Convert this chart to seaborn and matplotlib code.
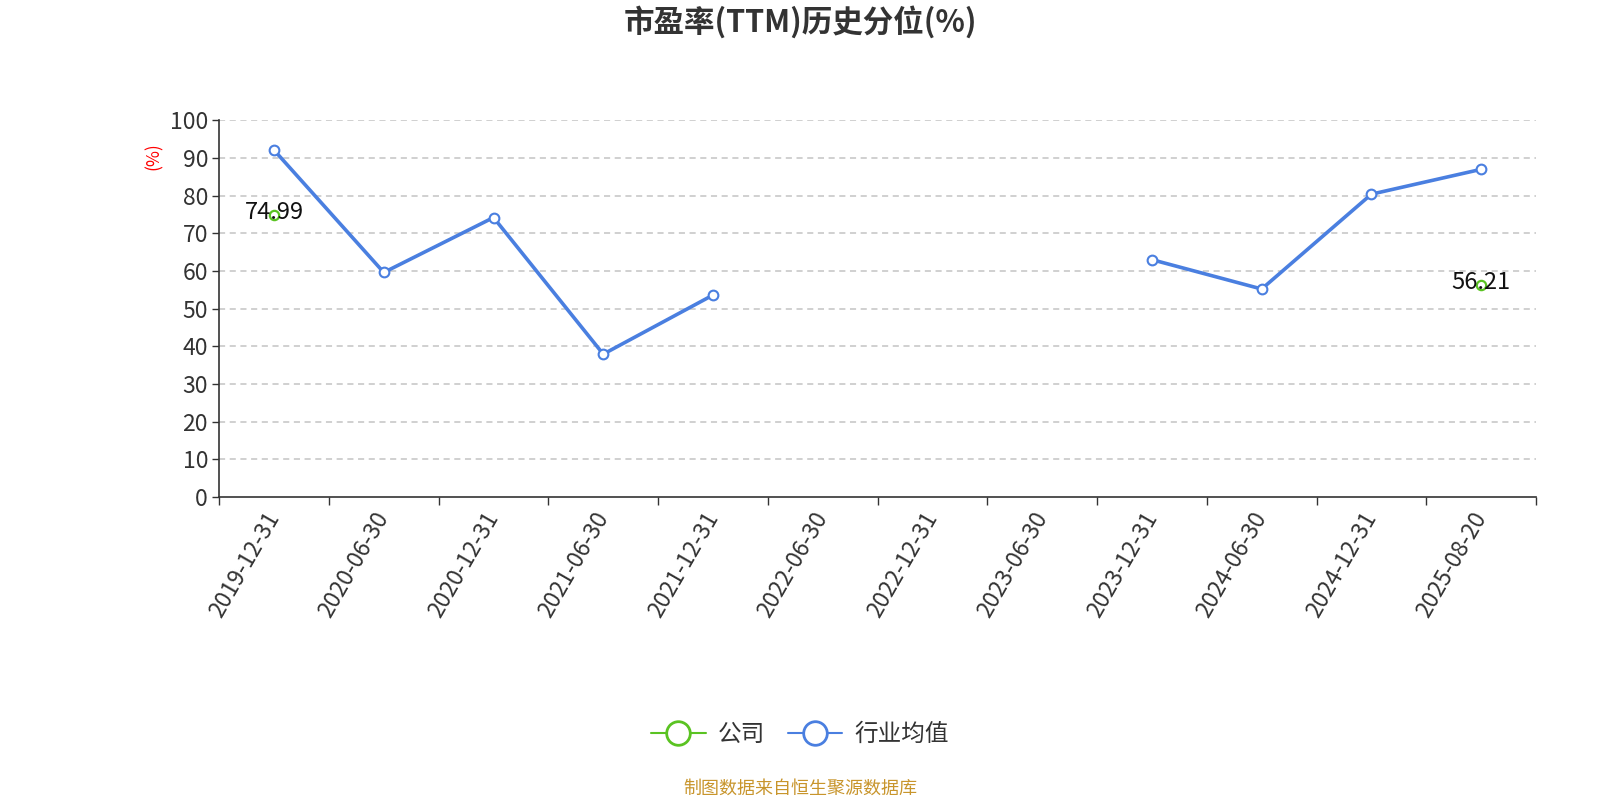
import numpy as np
import pandas as pd
import seaborn as sns
import matplotlib.pyplot as plt
from matplotlib.lines import Line2D

# 数据
dates = ['2019-12-31', '2020-06-30', '2020-12-31', '2021-06-30', '2021-12-31',
         '2022-06-30', '2022-12-31', '2023-06-30', '2023-12-31', '2024-06-30',
         '2024-12-31', '2025-08-20']
company = [74.99, None, None, None, None, None, None, None, None, None, None, 56.21]
industry = [92.1, 59.6, 74.2, 37.9, 53.6, None, None, None, 63.0, 55.2, 80.4, 87.0]

green = '#5ac322'
blue = '#4a7fe0'

sns.set_theme(style='white')
plt.rcParams['font.family'] = ['Noto Sans CJK SC', 'DejaVu Sans']

fig = plt.figure(figsize=(16, 8), dpi=100)
ax = fig.add_axes([0.137, 0.379, 0.823, 0.4705])

x = np.arange(len(dates))
df = pd.DataFrame({'x': x, 'company': company, 'industry': industry})
df['company'] = df['company'].astype(float)
df['industry'] = df['industry'].astype(float)

# 行业均值：按连续段分开画，空值处断开
seg = df['industry'].isna().cumsum()
ind = df.assign(seg=seg).dropna(subset=['industry'])
sns.lineplot(data=ind, x='x', y='industry', units='seg', estimator=None,
             color=blue, linewidth=2.6, marker='o', markersize=7,
             markerfacecolor='white', markeredgecolor=blue, markeredgewidth=1.5,
             ax=ax, zorder=3)

# 公司
comp = df.dropna(subset=['company'])
sns.scatterplot(data=comp, x='x', y='company', s=45, facecolor='white',
                edgecolor=green, linewidth=1.6, ax=ax, zorder=4)
for xi, yi in zip(comp['x'], comp['company']):
    ax.text(xi, yi + 0.6, f'{yi:.2f}', ha='center', va='center', fontsize=17,
            color='#111111', zorder=5)

ax.set_xlim(-0.5, len(dates) - 0.5)
ax.set_ylim(0, 100)
ax.set_yticks(range(0, 101, 10))
ax.tick_params(axis='y', labelsize=16.5, labelcolor='#333333', length=5,
               width=1, color='#333333', left=True, pad=3)
for yv in range(10, 101, 10):
    ax.axhline(yv, color='#c4c4c4', linestyle=(0, (4, 3)), linewidth=1.1, zorder=1)

ax.set_xticks(np.arange(-0.5, len(dates), 1.0))
ax.set_xticklabels([])
ax.tick_params(axis='x', which='major', length=6, width=1, color='#333333', bottom=True)
ax.set_xticks(x, minor=True)
ax.set_xticklabels(dates, minor=True, rotation=60, ha='right', va='center',
                   rotation_mode='anchor', fontsize=16.5, color='#333333')
ax.tick_params(axis='x', which='minor', length=0, pad=12)

ax.set_xlabel('')
ax.set_ylabel('(%)', color='red', fontsize=12.5, labelpad=4)
ax.yaxis.set_label_coords(-0.043, 0.905)

for s in ['top', 'right']:
    ax.spines[s].set_visible(False)
for s in ['left', 'bottom']:
    ax.spines[s].set_color('#333333')
    ax.spines[s].set_linewidth(1.2)

fig.text(0.5, 0.972, '市盈率(TTM)历史分位(%)', ha='center', va='center',
         fontsize=22, fontweight='bold', color='#333333')

handles = [
    Line2D([0], [0], color=green, linewidth=1.5, marker='o', markersize=17,
           markerfacecolor='white', markeredgecolor=green, markeredgewidth=2),
    Line2D([0], [0], color=blue, linewidth=1.5, marker='o', markersize=17,
           markerfacecolor='white', markeredgecolor=blue, markeredgewidth=2),
]
fig.legend(handles, ['公司', '行业均值'], loc='center', bbox_to_anchor=(0.5, 0.082),
           ncol=2, frameon=False, fontsize=17, handlelength=2.3, columnspacing=1.0,
           handletextpad=0.5, labelcolor='#333333')

fig.text(0.5, 0.014, '制图数据来自恒生聚源数据库', ha='center', va='center',
         fontsize=13, color='#c8952c')

fig.savefig('out.png', dpi=100)
